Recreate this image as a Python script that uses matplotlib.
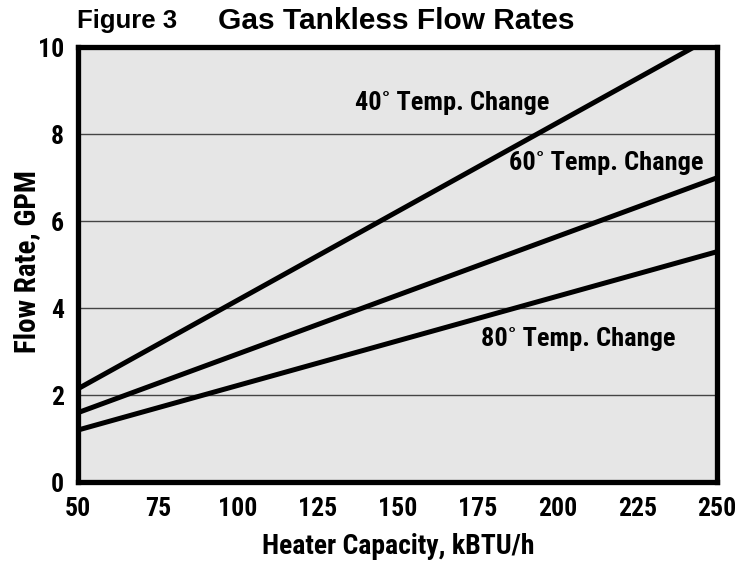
import matplotlib
matplotlib.use("Agg")
import matplotlib.pyplot as plt
from matplotlib import font_manager

capacity = [50, 250]
flow_40 = [2.15, 10.3]
flow_60 = [1.6, 7.0]
flow_80 = [1.2, 5.3]
x_ticks = [50, 75, 100, 125, 150, 175, 200, 225, 250]
y_ticks = [0, 2, 4, 6, 8, 10]
labels = ["40˚ Temp. Change", "60˚ Temp. Change", "80˚ Temp. Change"]
label_pos = [(167.1, 8.71), (215.3, 7.33), (206.5, 3.30)]

names = {f.name for f in font_manager.fontManager.ttflist}
cond = "DejaVu Sans"
for cand in ["Roboto Condensed", "Liberation Sans Narrow", "Asap Condensed",
             "Barlow Condensed"]:
    if cand in names:
        cond = cand
        break
head = "DejaVu Sans"
for cand in ["Nimbus Sans", "Liberation Sans", "Arimo", "Helvetica"]:
    if cand in names:
        head = cand
        break

plt.rcParams['font.family'] = [cond, 'DejaVu Sans']

fig = plt.figure(figsize=(7.44, 5.62), dpi=100)
ax = fig.add_axes([0.105, 0.142, 0.859, 0.774])
ax.set_facecolor("#e6e6e6")
ax.set_xlim(50, 250)
ax.set_ylim(0, 10)
for y in [2, 4, 6, 8]:
    ax.axhline(y, color="#444444", lw=1.0, zorder=1)

for ys in (flow_40, flow_60, flow_80):
    ax.plot(capacity, ys, color="black", lw=3.6, solid_capstyle="butt", zorder=3)

for txt, (x, y) in zip(labels, label_pos):
    ax.text(x, y, txt, ha="center", va="center", fontsize=19, fontweight="bold", zorder=4)

for s in ax.spines.values():
    s.set_linewidth(3.8)
    s.set_color("black")
    s.set_zorder(5)

ax.set_xticks(x_ticks)
ax.set_yticks(y_ticks)
ax.set_xticklabels([str(v) for v in x_ticks], fontsize=18.5, fontweight="bold")
ax.set_yticklabels([str(v) for v in y_ticks], fontsize=18.5, fontweight="bold")
ax.tick_params(length=0)
ax.tick_params(axis="x", pad=11)
ax.tick_params(axis="y", pad=10)

fig.text(398 / 744, 1 - 554 / 562, "Heater Capacity, kBTU/h", fontsize=20,
         fontweight="bold", ha="center", va="baseline")
fig.text(27 / 744, 1 - 262 / 562, "Flow Rate, GPM", fontsize=21, fontweight="bold",
         rotation=90, ha="center", va="center")

fig.text(0.103, 0.963, "Figure 3", fontsize=18.5, fontweight="bold",
         family=[head, "DejaVu Sans"], ha="left", va="center")
fig.text(0.293, 0.963, "Gas Tankless Flow Rates", fontsize=21.5, fontweight="bold",
         family=[head, "DejaVu Sans"], ha="left", va="center")

fig.savefig("out.png", dpi=100)
